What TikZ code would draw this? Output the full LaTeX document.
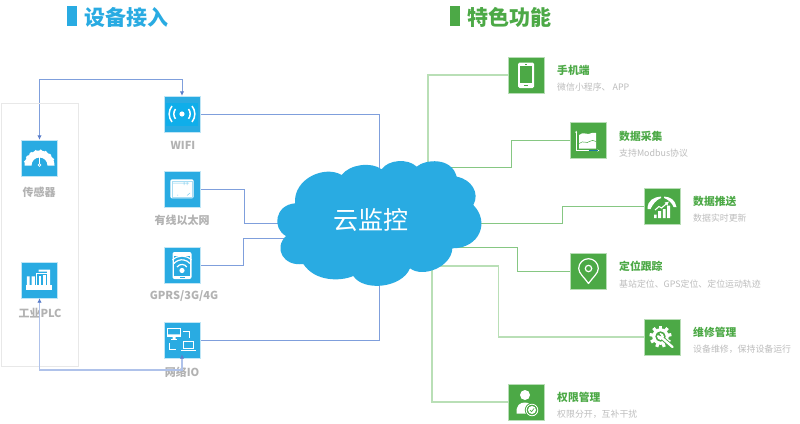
\documentclass[tikz,border=0pt]{standalone}
\usepackage{fontspec}
\setmainfont{Noto Sans CJK SC}
\usetikzlibrary{arrows.meta,backgrounds}
\definecolor{tileblue}{HTML}{29ABE2}
\definecolor{tilegreen}{HTML}{4CA946}
\definecolor{innerblue}{HTML}{0FAEEA}
\definecolor{wireblue}{HTML}{7F9FDC}
\definecolor{wirepale}{HTML}{AFC2EA}
\definecolor{arrowblue}{HTML}{5C7FCB}
\definecolor{wiregreen}{HTML}{86C783}
\definecolor{wirepalegreen}{HTML}{B9DFB6}
\definecolor{labelgray}{HTML}{B2B2B2}
\definecolor{subgray}{HTML}{BDBDBD}
\tikzset{
  x=1pt,y=-1pt,
  bluetile/.style={minimum size=36pt,inner sep=0pt,fill=tileblue,draw=tileblue!30,line width=.4pt},
  greentile/.style={minimum size=36pt,inner sep=0pt,fill=tilegreen,draw=tilegreen!40,line width=.4pt},
  devlabel/.style={inner sep=0pt,text=labelgray,font=\bfseries\fontsize{11}{13}\selectfont},
  funcname/.style={anchor=west,inner sep=0pt,text=tilegreen,font=\bfseries\fontsize{10.8}{13}\selectfont},
  funcsub/.style={anchor=west,inner sep=0pt,text=subgray,font=\fontsize{8.9}{11}\selectfont},
  bluewire/.style={draw=wireblue,line width=.9pt},
  palebluewire/.style={draw=wirepale,line width=1.4pt},
  greenwire/.style={draw=wiregreen,line width=.9pt},
  palegreenwire/.style={draw=wirepalegreen,line width=1.3pt},
  twoway/.style={{Latex[length=4.5pt,width=4.5pt,color=arrowblue]}-{Latex[length=4.5pt,width=4.5pt,color=arrowblue]}},
  ink/.style={draw=white,line width=1.2pt,fill=none},
}
\begin{document}
\begin{tikzpicture}
\useasboundingbox (0,0) rectangle (800,423);
% headings
\node[fill=tileblue,minimum width=10pt,minimum height=20pt,inner sep=0pt] (barL) at (72,16) {};
\node[anchor=west,inner sep=0pt,text=tileblue,font=\bfseries\fontsize{21}{24}\selectfont] (headL) at (84,17) {设备接入};
\node[fill=tilegreen,minimum width=10pt,minimum height=20pt,inner sep=0pt] (barR) at (455,16) {};
\node[anchor=west,inner sep=0pt,text=tilegreen,font=\bfseries\fontsize{21}{24}\selectfont] (headR) at (467.5,17) {特色功能};
% gray frame
\node[draw=black!9,line width=1pt,minimum width=77pt,minimum height=263pt,inner sep=0pt] (frame) at (39.5,234.5) {};
% tiles
\node[bluetile] (wifi) at (182,114) {};
\node[bluetile] (sensor) at (39.5,158) {};
\node[bluetile] (wired) at (182,189) {};
\node[bluetile] (gprs) at (182,265) {};
\node[bluetile] (netio) at (182,340) {};
\node[bluetile] (plc) at (39.5,280) {};
\node[greentile] (phone) at (526,75) {};
\node[greentile] (collect) at (588.5,140.5) {};
\node[greentile] (push) at (662,206) {};
\node[greentile] (locate) at (588.5,271.5) {};
\node[greentile] (repair) at (662,337) {};
\node[greentile] (rights) at (526,402) {};
% device labels
\node[devlabel] (lwifi) at (183,145) {WIFI};
\node[devlabel] (lsensor) at (39,192) {传感器};
\node[devlabel] (lwired) at (182,220.5) {有线以太网};
\node[devlabel] (lgprs) at (184,296) {GPRS/3G/4G};
\node[devlabel] (lnetio) at (182,372) {网络IO};
\node[devlabel] (lplc) at (40,313.5) {工业PLC};
% function labels
\node[funcname] (n1) at (557,70) {手机端};
\node[funcsub] (s1) at (557,87.5) {微信小程序、 APP};
\node[funcname] (n2) at (619,136) {数据采集};
\node[funcsub] (s2) at (619,153) {支持Modbus协议};
\node[funcname] (n3) at (693,201) {数据推送};
\node[funcsub] (s3) at (693,218) {数据实时更新};
\node[funcname] (n4) at (619,266.5) {定位跟踪};
\node[funcsub] (s4) at (619,284) {基站定位、GPS定位、定位运动轨迹};
\node[funcname] (n5) at (693,332) {维修管理};
\node[funcsub] (s5) at (693,349.5) {设备维修，保持设备运行};
\node[funcname] (n6) at (557,397.5) {权限管理};
\node[funcsub] (s6) at (557,414) {权限分开，互补干扰};
% cloud label
\node[inner sep=0pt,text=white,font=\fontsize{25}{28}\selectfont] (cloud) at (371,220) {云监控};
% free ends hidden under the cloud
\coordinate (cTop) at (379,200);
\coordinate (cBot) at (379,260);
\coordinate (cL1) at (300,223.5);
\coordinate (cL2) at (300,238.5);
\coordinate (cR1) at (428,190);
\coordinate (cR2) at (420,167.5);
\coordinate (cR3) at (440,223);
\coordinate (cR4) at (440,247);
\coordinate (cR5) at (440,266);
\coordinate (cR6) at (432,260);
\begin{pgfonlayer}{background}
\fill[white] (0,0) rectangle (800,423);
% blue connectors
\draw[bluewire] (wifi.east) -| (cTop);
\draw[bluewire] (wired.east) -- (244,189) |- (cL1);
\draw[bluewire] (gprs.east) -- (243.5,265) |- (cL2);
\draw[bluewire] (netio.east) -| (cBot);
\draw[bluewire,twoway] (sensor.north) -- (39.5,79.5) -- (182,79.5) -- (wifi.north);
% green connectors
\draw[palegreenwire] (phone.west) -| (cR1);
\draw[greenwire] (collect.west) -- (511.5,140.5) |- (cR2);
\draw[greenwire] (push.west) -- (562.5,206) |- (cR3);
\draw[greenwire] (locate.west) -- (517,271.5) |- (cR4);
\draw[palegreenwire] (repair.west) -- (498.5,337) |- (cR5);
\draw[palegreenwire] (rights.west) -| (cR6);
% cloud
\begin{scope}[shift={(260,150)},x=.3333pt,y=-.3333pt]
\fill[tileblue] (105,160)
 .. controls (100,85) and (195,45) .. (245,75)
 .. controls (270,42) and (335,35) .. (365,58)
 .. controls (385,28) and (445,25) .. (470,50)
 .. controls (495,28) and (575,20) .. (590,80)
 .. controls (635,88) and (660,130) .. (640,165)
 .. controls (690,215) and (660,295) .. (577,295)
 .. controls (575,350) and (490,385) .. (450,355)
 .. controls (425,415) and (310,425) .. (280,378)
 .. controls (240,395) and (165,395) .. (130,342)
 .. controls (70,350) and (40,295) .. (78,258)
 .. controls (35,235) and (45,165) .. (105,160) -- cycle;
\end{scope}
\end{pgfonlayer}
% this connector runs over the label and its tile
\draw[palebluewire,twoway] (plc.south) -- (39.5,370) -- (182,370) -- ([yshift=4pt]netio.south);
% ---------- icons ----------
% wifi
\begin{scope}[shift={(wifi.center)}]
\fill[innerblue] (-16.3,-11.5) rectangle (16.3,11.5);
\fill[white] (0,0) circle[radius=2.6];
\draw[white,line width=1.5pt] (6.5,-5) arc[start angle=-38,end angle=38,radius=8] ;
\draw[white,line width=1.5pt] (-6.5,-5) arc[start angle=218,end angle=142,radius=8];
\draw[white,line width=1.5pt] (10,-8) arc[start angle=-39,end angle=39,radius=12.7];
\draw[white,line width=1.5pt] (-10,-8) arc[start angle=219,end angle=141,radius=12.7];
\end{scope}
% sensor gauge
\begin{scope}[shift={(sensor.center)}]
\fill[white] (-15,7.5) arc[start angle=180,end angle=360,radius=15] -- (8,7.5) arc[start angle=0,end angle=-180,radius=8] -- cycle;
\foreach \a in {195,215,235,255,275,295,315,335}{
  \fill[white] ({\a}:14.5) ++(0,7.5) circle[radius=1.7];
}
\draw[white,line width=1pt] (0,-3) -- (0,5.5);
\draw[white,line width=.7pt] (0,7) circle[radius=1.3];
\end{scope}
% wired
\begin{scope}[shift={(wired.center)}]
\fill[white,rounded corners=1.5pt] (-11.7,-9.7) rectangle (11.7,9.4);
\draw[tileblue!60,line width=.5pt] (-9.5,-6) -- (7,-6) (2,-8) -- (2,-4) (5,-8) -- (5,-4) (-5,6) -- (-4,6) (5,6.5) -- (8,4);
\draw[tileblue!40,line width=.4pt] (-10,-8.3) rectangle (10,8);
\end{scope}
% gprs
\begin{scope}[shift={(gprs.center)}]
\fill[white,rounded corners=2pt] (-9.5,-13) rectangle (9.5,14);
\fill[tileblue] (-8,-9.5) rectangle (8,10.5);
\fill[white] (0,5.5) circle[radius=2.6];
\draw[white,line width=1.2pt] (-5,2) arc[start angle=215,end angle=325,radius=6];
\draw[white,line width=1.2pt] (-8,-1.5) arc[start angle=220,end angle=320,radius=10.4];
\draw[white,line width=1.2pt] (-9.5,-5) arc[start angle=225,end angle=315,radius=13.4];
\fill[tileblue] (-2.5,11.7) rectangle (2.5,12.6);
\end{scope}
% network io
\begin{scope}[shift={(netio.center)}]
\draw[white,line width=.9pt] (-14.8,-11.8) rectangle (-1.6,-3.6);
\fill[white] (-14.8,-5.6) rectangle (-1.6,-3.2) (-9.5,-3.2) rectangle (-6.5,-.4);
\draw[white,line width=.9pt] (-11,-.2) -- (-5,-.2);
\draw[ink] (1,-8.8) -- (7.7,-8.8) -- (7.7,-2);
\draw[ink] (-12.5,3) -- (-12.5,9.7) -- (-5.7,9.7);
\draw[white,line width=.8pt] (1,1) rectangle (11.5,8.8);
\fill[white] (-1.5,9.5) rectangle (14,11.2);
\end{scope}
% plc
\begin{scope}[shift={(plc.center)}]
\fill[white] (-14,4.7) rectangle (12.5,9.5);
\fill[white] (-12.7,-3.7) rectangle (-10,5) (-8,-3.7) rectangle (-4.7,5);
\draw[white,line width=.9pt] (-3,5) -- (-3,-7) -- (8,-7);
\fill[white] (-1,-10.5) -- (10.5,-10.5) -- (10.5,5) -- (7.5,5) -- (7.5,-8.5) -- (-1,-8.5) -- cycle;
\fill[white] (-1,-4) -- (1,-4) -- (1,5) -- (-1,5) -- cycle;
\fill[white] (3,-5.5) rectangle (6,5);
\end{scope}
% phone
\begin{scope}[shift={(phone.center)}]
\fill[white,rounded corners=1.5pt] (-8,-12.5) rectangle (8,13);
\fill[tilegreen] (-6.2,-8.8) rectangle (6.2,8.4);
\fill[tilegreen] (-2,10) rectangle (2,11.2);
\fill[tilegreen] (-1.2,-11) rectangle (1.2,-10.2);
\end{scope}
% data collection
\begin{scope}[shift={(collect.center)}]
\fill[white] (-9.3,-5.5) .. controls (-5,-9) and (-3,-6) .. (0,-6.5) .. controls (3,-7) and (4,-8.5) .. (7.5,-7.5) -- (7.5,8) -- (-9.3,8) -- cycle;
\draw[tilegreen,line width=.5pt] (-9.3,3) .. controls (-5,-1) and (-2,4) .. (1,1) .. controls (3,-1) and (5,0) .. (7.5,1);
\draw[white,line width=.7pt,-{Latex[length=2.2pt,width=2.2pt]}] (-12.3,10) -- (-12.3,-10);
\draw[white,line width=.7pt,-{Latex[length=2.2pt,width=2.2pt]}] (-12.3,10) -- (11,10);
\draw[tileblue!70!black,line width=.7pt] (0,10) -- (9,10);
\end{scope}
% data push
\begin{scope}[shift={(push.center)}]
\fill[white] (-14.5,3) .. controls (-14.5,-6) and (-8,-9) .. (-1,-9.5) -- (-1,-8) .. controls (-6,-6) and (-9,-2) .. (-11.5,3) -- cycle;
\fill[white] (14.5,1) .. controls (13,-6) and (9,-9) .. (2,-9.5) -- (2,-8) .. controls (7,-6) and (10,-3) .. (11.5,1) -- cycle;
\fill[white] (-8,8.5) rectangle (-5.5,12) (-3.8,5) rectangle (-1,12) (.8,3) rectangle (3.5,12) (5.2,-.5) rectangle (8,12);
\draw[white,line width=1.1pt,-{Latex[length=4pt,width=4.5pt]}] (-7,4) -- (-3,.5) -- (-.5,2) -- (7,-4.5);
\end{scope}
% location pin
\begin{scope}[shift={(locate.center)}]
\draw[white,line width=1.2pt,line join=round] (0,12) .. controls (-4,6) and (-9.8,2) .. (-9.8,-3) arc[start angle=180,end angle=360,radius=9.8] .. controls (9.8,2) and (4,6) .. (0,12) -- cycle;
\draw[white,line width=1.2pt] (0,-3) circle[radius=3.2];
\end{scope}
% repair gear
\begin{scope}[shift={(repair.center)}]
\foreach \a in {0,40,...,320}{
  \fill[white,shift={(-1.5,-.5)},rotate=\a] (-1.6,-11) rectangle (1.6,-7);
}
\fill[white] (-1.5,-.5) circle[radius=8.3];
\fill[tilegreen] (-1.5,-.5) circle[radius=5.2];
\draw[tilegreen,line width=4.2pt] (0,1) -- (11,10.5);
\draw[white,line width=2.3pt,line cap=round] (-.5,.5) -- (10.5,10);
\fill[white] (-1.5,-.5) circle[radius=3.4];
\fill[tilegreen] (-3.5,-5) -- (-.7,-.7) -- (-4.8,-2.2) -- cycle;
\end{scope}
% rights
\begin{scope}[shift={(rights.center)}]
\fill[white] (-1,-7) circle[radius=5];
\fill[white] (-9.5,11.5) .. controls (-10,3) and (-6,.5) .. (-1,.5) .. controls (4,.5) and (6,3) .. (5,11.5) -- cycle;
\fill[tilegreen] (6,8) circle[radius=7.2];
\draw[white,line width=.8pt] (6,8) circle[radius=5.8];
\fill[white] (6,8) circle[radius=4];
\draw[tilegreen,line width=.7pt] (4,8) -- (5.5,9.7) -- (8,6.5);
\end{scope}
\end{tikzpicture}
\end{document}
